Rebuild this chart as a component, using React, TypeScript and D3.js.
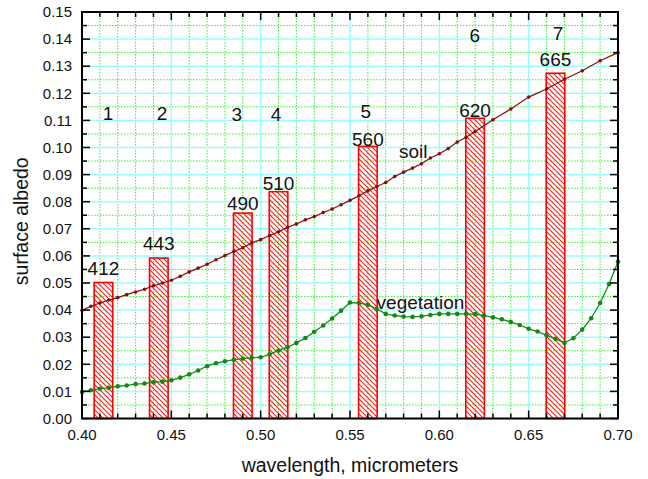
import React from "react";
import * as d3 from "d3";

// wavelengths in nm, albedo as fraction
const vegWavelengths = [
  400, 405, 410, 415, 420, 425, 430, 435, 440, 445, 450, 455, 460, 465, 470, 475, 480, 485, 490, 495,
  500, 505, 510, 515, 520, 525, 530, 535, 540, 545, 550, 555, 560, 565, 570, 575, 580, 585, 590, 595,
  600, 605, 610, 615, 620, 625, 630, 635, 640, 645, 650, 655, 660, 665, 670, 675, 680, 685, 690, 695, 700,
];
const vegAlbedo = [
  0.0098, 0.0104, 0.011, 0.0113, 0.0119, 0.0122, 0.0127, 0.0129, 0.0134, 0.0136, 0.0141, 0.0151, 0.0163,
  0.0177, 0.0193, 0.0204, 0.0211, 0.0217, 0.0221, 0.0224, 0.0226, 0.0237, 0.0251, 0.0263, 0.0279, 0.0297,
  0.032, 0.0343, 0.0369, 0.0398, 0.0428, 0.0426, 0.042, 0.0404, 0.0386, 0.038, 0.0376, 0.0375, 0.0377,
  0.0382, 0.0386, 0.0386, 0.0386, 0.0386, 0.0385, 0.038, 0.0373, 0.0366, 0.0356, 0.0345, 0.0331, 0.0321,
  0.0307, 0.0294, 0.0279, 0.0296, 0.0328, 0.037, 0.0426, 0.0496, 0.0578,
];

const soilWavelengths = [
  400, 405, 410, 415, 420, 425, 430, 435, 440, 445, 450, 455, 460, 465, 470, 475, 480, 485, 490, 495,
  500, 505, 510, 515, 520, 525, 530, 535, 540, 545, 550, 555, 560, 565, 570, 575, 580, 585, 590, 595,
  600, 605, 610, 615, 620, 630, 640, 650, 660, 670, 680, 690, 700,
];
const soilAlbedo = [
  0.0399, 0.0414, 0.0426, 0.0437, 0.0446, 0.0457, 0.0467, 0.0477, 0.049, 0.05, 0.051, 0.0525, 0.0541,
  0.0555, 0.0569, 0.0586, 0.0601, 0.0616, 0.063, 0.0648, 0.066, 0.0675, 0.0689, 0.0705, 0.0718, 0.0733,
  0.0745, 0.076, 0.0773, 0.0789, 0.0805, 0.0822, 0.084, 0.0856, 0.0871, 0.0893, 0.0909, 0.0924, 0.094,
  0.0961, 0.0977, 0.0996, 0.102, 0.1038, 0.1059, 0.1102, 0.1142, 0.1186, 0.1216, 0.1252, 0.1283, 0.132,
  0.135,
];

// spectral bands (nm) and bar heights
const bandCenters = [412, 443, 490, 510, 560, 620, 665];
const bandHeights = [0.0502, 0.0592, 0.0758, 0.0837, 0.1004, 0.1108, 0.1274];
const bandLabelAlbedo = [0.0531, 0.062, 0.0768, 0.0844, 0.1007, 0.1114, 0.1302];
const bandNumbers = ["1", "2", "3", "4", "5", "6", "7"];
const bandNumberX = [0.4146, 0.4448, 0.4867, 0.5086, 0.5589, 0.6199, 0.6664];
const bandNumberAlbedo = [0.1102, 0.1101, 0.1099, 0.1099, 0.1109, 0.139, 0.1395];

const xTicks = [0.4, 0.45, 0.5, 0.55, 0.6, 0.65, 0.7];
const yTicks = [0, 0.01, 0.02, 0.03, 0.04, 0.05, 0.06, 0.07, 0.08, 0.09, 0.1, 0.11, 0.12, 0.13, 0.14, 0.15];

const W = 648;
const H = 479;
const margin = { left: 82, right: 30, top: 12, bottom: 60 };
const font = "'Liberation Sans', Arial, Helvetica, sans-serif";

export default function App() {
  const x = d3.scaleLinear().domain([0.4, 0.7]).range([margin.left, W - margin.right]);
  const y = d3.scaleLinear().domain([0, 0.15]).range([H - margin.bottom - 0.5, margin.top]);
  const [x0, x1] = x.range();
  const [y0, y1] = y.range();

  const xMinor = d3.range(0.4, 0.7001, 0.01).filter((v) => !xTicks.some((t) => Math.abs(t - v) < 1e-6));
  const yMinor = d3.range(0.005, 0.15, 0.01);

  const soilPath = d3
    .line<number>()
    .x((d) => x(d / 1000))
    .y((_, i) => y(soilAlbedo[i]))(soilWavelengths);
  const vegPath = d3
    .line<number>()
    .x((d) => x(d / 1000))
    .y((_, i) => y(vegAlbedo[i]))(vegWavelengths);

  const barW = 0.0104;

  return (
    <svg width={W} height={H} style={{ position: "absolute", left: 0, top: 0, background: "#fff" }}>
      <defs>
        <pattern id="hatch" patternUnits="userSpaceOnUse" width={5} height={5}>
          <path d="M-1,-1 L6,6 M-1,4 L1,6 M4,-1 L6,1" stroke="#ff1a1a" strokeWidth={1.1} />
        </pattern>
      </defs>

      {/* grid */}
      <g>
        {yMinor.map((v) => (
          <line key={"ym" + v} x1={x0} x2={x1} y1={y(v)} y2={y(v)} stroke="#33ee33" strokeWidth={1} strokeDasharray="1.5,1.5" />
        ))}
        {xMinor.map((v) => (
          <line key={"xm" + v} x1={x(v)} x2={x(v)} y1={y0} y2={y1} stroke="#33ee33" strokeWidth={1} strokeDasharray="1.5,1.5" />
        ))}
        {yTicks.map((v) => (
          <line key={"yg" + v} x1={x0} x2={x1} y1={y(v)} y2={y(v)} stroke="#99ffff" strokeWidth={1.5} />
        ))}
        {xTicks.map((v) => (
          <line key={"xg" + v} x1={x(v)} x2={x(v)} y1={y0} y2={y1} stroke="#99ffff" strokeWidth={1.5} />
        ))}
      </g>

      {/* bands */}
      <g>
        {bandCenters.map((c, i) => {
          const left = x(c / 1000 - barW / 2);
          const right = x(c / 1000 + barW / 2);
          return (
            <rect
              key={"b" + c}
              x={left}
              y={y(bandHeights[i])}
              width={right - left}
              height={y(0) - y(bandHeights[i])}
              fill="url(#hatch)"
              stroke="#ff0000"
              strokeWidth={1.6}
            />
          );
        })}
        {bandCenters.map((c, i) => (
          <text key={"bl" + c} x={x(c / 1000)} y={y(bandLabelAlbedo[i])} textAnchor="middle" fontSize={19} fontFamily={font} fill="#111">
            {c}
          </text>
        ))}
        {bandNumbers.map((n, i) => (
          <text key={"bn" + n} x={x(bandNumberX[i])} y={y(bandNumberAlbedo[i])} textAnchor="middle" fontSize={19} fontFamily={font} fill="#111">
            {n}
          </text>
        ))}
      </g>

      {/* spectra */}
      <path d={soilPath ?? ""} fill="none" stroke="#8b0a0a" strokeWidth={1.2} />
      {soilWavelengths.map((w, i) => (
        <circle key={"s" + w} cx={x(w / 1000)} cy={y(soilAlbedo[i])} r={1.8} fill="#8b0a0a" />
      ))}
      <path d={vegPath ?? ""} fill="none" stroke="#138a13" strokeWidth={1.3} />
      {vegWavelengths.map((w, i) => (
        <circle key={"v" + w} cx={x(w / 1000)} cy={y(vegAlbedo[i])} r={2.3} fill="#138a13" />
      ))}
      <text x={x(0.5774)} y={y(0.0962)} fontSize={19} fontFamily={font} fill="#111">soil</text>
      <text x={x(0.5649)} y={y(0.0405)} fontSize={19} fontFamily={font} fill="#111">vegetation</text>

      {/* ticks */}
      <g stroke="#000" strokeWidth={1.5}>
        {xTicks.map((v) => (
          <g key={"xt" + v}>
            <line x1={x(v)} x2={x(v)} y1={y0} y2={y0 - 8} />
            <line x1={x(v)} x2={x(v)} y1={y1} y2={y1 + 8} />
          </g>
        ))}
        {xMinor.map((v) => (
          <g key={"xtm" + v}>
            <line x1={x(v)} x2={x(v)} y1={y0} y2={y0 - 5} />
            <line x1={x(v)} x2={x(v)} y1={y1} y2={y1 + 5} />
          </g>
        ))}
        {yTicks.map((v) => (
          <g key={"yt" + v}>
            <line x1={x0} x2={x0 + 8} y1={y(v)} y2={y(v)} />
            <line x1={x1} x2={x1 - 8} y1={y(v)} y2={y(v)} />
          </g>
        ))}
        {yMinor.map((v) => (
          <g key={"ytm" + v}>
            <line x1={x0} x2={x0 + 5} y1={y(v)} y2={y(v)} />
            <line x1={x1} x2={x1 - 5} y1={y(v)} y2={y(v)} />
          </g>
        ))}
      </g>
      <rect x={x0} y={y1} width={x1 - x0} height={y0 - y1} fill="none" stroke="#000" strokeWidth={2} />

      {/* tick labels */}
      {xTicks.map((v) => (
        <text key={"xl" + v} x={x(v)} y={y0 + 21} textAnchor="middle" fontSize={15} fontFamily={font} fill="#111">
          {d3.format(".2f")(v)}
        </text>
      ))}
      {yTicks.map((v) => (
        <text key={"yl" + v} x={x0 - 10} y={y(v)} dy="0.35em" textAnchor="end" fontSize={15} fontFamily={font} fill="#111">
          {d3.format(".2f")(v)}
        </text>
      ))}

      {/* axis titles */}
      <text x={(x0 + x1) / 2} y={472} textAnchor="middle" fontSize={19.5} fontFamily={font} fill="#111">
        wavelength, micrometers
      </text>
      <text
        transform={`translate(28,${(y0 + y1) / 2 + 6}) rotate(-90)`}
        textAnchor="middle"
        fontSize={19.5}
        fontFamily={font}
        fill="#111"
      >
        surface albedo
      </text>
    </svg>
  );
}
